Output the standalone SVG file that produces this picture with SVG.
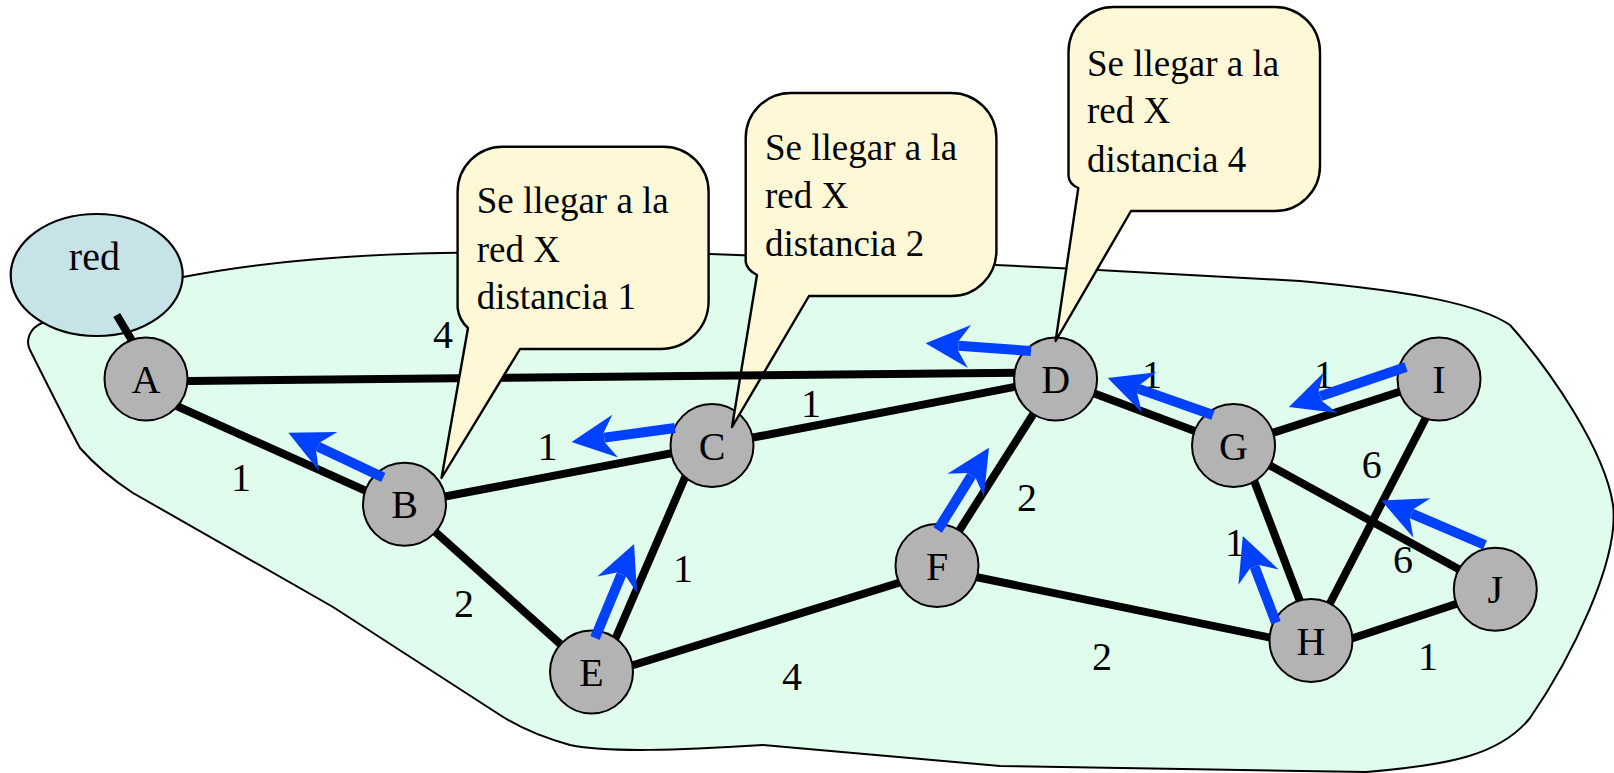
<svg xmlns="http://www.w3.org/2000/svg" width="1614" height="773" viewBox="0 0 1614 773">
<style>
.blob{fill:#e0fcec;stroke:#000;stroke-width:2}
.net{fill:#c6e4e8;stroke:#000;stroke-width:2.2}
.node circle{fill:#b3b3b3;stroke:#000;stroke-width:2}
.lbl{font-family:"Liberation Serif","Times New Roman",serif;font-size:40px;fill:#000;text-anchor:middle}
.bubble path{fill:#fff8d6;stroke:#000;stroke-width:2.4;stroke-linejoin:round}
.btxt{font-family:"Liberation Serif","Times New Roman",serif;font-size:37px;fill:#000}
.edge{stroke:#000;stroke-width:8;fill:none}
.arr{stroke:#0040ff;stroke-width:10;fill:none;marker-end:url(#ah)}
</style>
<defs>
<marker id="ah" markerUnits="userSpaceOnUse" markerWidth="60" markerHeight="50" viewBox="-15 -25 60 50" refX="0" refY="0" orient="auto" overflow="visible">
<path d="M33,0 L-11,-21.5 L0,-5 L0,5 L-11,21.5 Z" fill="#0040ff"/>
</marker>
<mask id="nodeMask" maskUnits="userSpaceOnUse" x="0" y="0" width="1614" height="773">
<rect x="0" y="0" width="1614" height="773" fill="#fff"/>
<g fill="#000">
<circle cx="146" cy="379" r="42"/>
<circle cx="404.5" cy="504.3" r="42"/>
<circle cx="712" cy="445.5" r="42"/>
<circle cx="1055.6" cy="379" r="42"/>
<circle cx="591.5" cy="672" r="42"/>
<circle cx="937" cy="565.5" r="42"/>
<circle cx="1233.5" cy="445.5" r="42"/>
<circle cx="1311" cy="640.5" r="42"/>
<circle cx="1439" cy="379" r="42"/>
<circle cx="1495.3" cy="589.3" r="42"/>
</g>
</mask>
</defs>

<path id="region" class="blob" d="M120,300 L181.7,277.3 C260,262 350,254 456.7,252.7 L710,254 L996,265 L1098,270 L1300,281 C1420,292 1480,305 1510,325 C1550,370 1605,450 1613,505 C1620,560 1570,660 1530,718 C1500,755 1450,765 1366,772 L1000,766 L763,745 C680,750 610,753 570,745 C545,738 520,728 500,715 L333,607 L133,493 C110,478 95,465 80,448 C65,420 40,370 30,350 C25,340 30,328 42,323 Z"/>

<g id="node-red">
<ellipse class="net" cx="96.7" cy="275" rx="86" ry="61"/>
<text class="lbl" x="94.4" y="270">red</text>
</g>

<g id="node-A" class="node"><circle cx="146" cy="379" r="41.5"/><text class="lbl" x="146" y="393">A</text></g>
<g id="node-B" class="node"><circle cx="404.5" cy="504.3" r="41.5"/><text class="lbl" x="404.5" y="518">B</text></g>
<g id="node-C" class="node"><circle cx="712" cy="445.5" r="41.5"/><text class="lbl" x="712" y="459.5">C</text></g>
<g id="node-D" class="node"><circle cx="1055.6" cy="379" r="41.5"/><text class="lbl" x="1055.6" y="393">D</text></g>
<g id="node-E" class="node"><circle cx="591.5" cy="672" r="41.5"/><text class="lbl" x="591.5" y="686">E</text></g>
<g id="node-F" class="node"><circle cx="937" cy="565.5" r="41.5"/><text class="lbl" x="937" y="579.5">F</text></g>
<g id="node-G" class="node"><circle cx="1233.5" cy="445.5" r="41.5"/><text class="lbl" x="1233.5" y="459.5">G</text></g>
<g id="node-H" class="node"><circle cx="1311" cy="640.5" r="41.5"/><text class="lbl" x="1311" y="654.5">H</text></g>
<g id="node-I" class="node"><circle cx="1439" cy="379" r="41.5"/><text class="lbl" x="1439" y="393">I</text></g>
<g id="node-J" class="node"><circle cx="1495.3" cy="589.3" r="41.5"/><text class="lbl" x="1495.3" y="603.3">J</text></g>

<g id="bubble-2" class="bubble">
<path d="M757,275 L732,427 L809,296 L951.4,296 A45,45 0 0 0 996.4,251 L996.4,138 A45,45 0 0 0 951.4,93 L790.7,93 A45,45 0 0 0 745.7,138 L745.7,262 Q747,270 757,275 Z"/>
<text class="btxt" x="765" y="160">Se llegar a la</text>
<text class="btxt" x="765" y="208">red X</text>
<text class="btxt" x="765" y="256">distancia 2</text>
</g>

<g id="connectors" mask="url(#nodeMask)">
<line class="edge" x1="116.7" y1="315" x2="137" y2="349"/>
<line class="edge" x1="146" y1="381.4" x2="1055.6" y2="372.3"/>
<line class="edge" x1="150" y1="394" x2="404" y2="508"/>
<line class="edge" x1="404.5" y1="504.3" x2="712" y2="445.5"/>
<line class="edge" x1="404.5" y1="504.3" x2="591.5" y2="672"/>
<line class="edge" x1="699" y1="445" x2="601" y2="672"/>
<line class="edge" x1="712" y1="445.5" x2="1055.6" y2="379"/>
<line class="edge" x1="1055.6" y1="379" x2="937" y2="565.5"/>
<line class="edge" x1="1055.6" y1="379" x2="1233.5" y2="445.5"/>
<line class="edge" x1="591.5" y1="678" x2="937" y2="571"/>
<line class="edge" x1="937" y1="569" x2="1311" y2="646"/>
<line class="edge" x1="1233.5" y1="445.5" x2="1439" y2="379"/>
<line class="edge" x1="1240.7" y1="445.5" x2="1314.9" y2="640.5"/>
<line class="edge" x1="1233.5" y1="445.5" x2="1495.3" y2="589.3"/>
<line class="edge" x1="1446" y1="379" x2="1311" y2="640"/>
<line class="edge" x1="1311" y1="652" x2="1495.3" y2="591"/>
</g>

<g id="bubble-1" class="bubble">
<path d="M468,328 L441.5,478 L520,349 L660.6,349 A48,48 0 0 0 708.6,301 L708.6,191.7 A45,45 0 0 0 663.6,146.7 L502.6,146.7 A45,45 0 0 0 457.6,191.7 L457.6,308 Q459,320 468,328 Z"/>
<text class="btxt" x="476.7" y="213">Se llegar a la</text>
<text class="btxt" x="476.7" y="262">red X</text>
<text class="btxt" x="476.7" y="309">distancia 1</text>
</g>

<g id="bubble-3" class="bubble">
<path d="M1078.3,188 L1055.6,341 L1131,211 L1275,211 A45,45 0 0 0 1320,166 L1320,52 A45,45 0 0 0 1275,7 L1113.5,7 A45,45 0 0 0 1068.5,52 L1068.5,176 Q1069,184 1078.3,188 Z"/>
<text class="btxt" x="1087" y="76">Se llegar a la</text>
<text class="btxt" x="1087" y="123">red X</text>
<text class="btxt" x="1087" y="172">distancia 4</text>
</g>

<g id="edge-labels">
<text class="lbl" x="443" y="348">4</text>
<text class="lbl" x="241" y="491">1</text>
<text class="lbl" x="547.5" y="460">1</text>
<text class="lbl" x="811" y="417">1</text>
<text class="lbl" x="683" y="582">1</text>
<text class="lbl" x="464" y="617">2</text>
<text class="lbl" x="792" y="690">4</text>
<text class="lbl" x="1027" y="511">2</text>
<text class="lbl" x="1152" y="388">1</text>
<text class="lbl" x="1324" y="388">1</text>
<text class="lbl" x="1371.7" y="478">6</text>
<text class="lbl" x="1235" y="556">1</text>
<text class="lbl" x="1403" y="573">6</text>
<text class="lbl" x="1102" y="670">2</text>
<text class="lbl" x="1428" y="670">1</text>
</g>

<g id="routes">
<line class="arr" x1="383.3" y1="477.5" x2="318.2" y2="446.8"/>
<line class="arr" x1="675" y1="428" x2="604.3" y2="437.6"/>
<line class="arr" x1="595" y1="638" x2="621.4" y2="574.5"/>
<line class="arr" x1="937.7" y1="530" x2="971.5" y2="475.7"/>
<line class="arr" x1="1031" y1="351" x2="958.5" y2="345.7"/>
<line class="arr" x1="1213" y1="415" x2="1138.8" y2="388.9"/>
<line class="arr" x1="1406" y1="367" x2="1320.2" y2="396.3"/>
<line class="arr" x1="1276" y1="622.7" x2="1254.6" y2="566.8"/>
<line class="arr" x1="1485" y1="545" x2="1411.8" y2="513.6"/>
</g>
</svg>
